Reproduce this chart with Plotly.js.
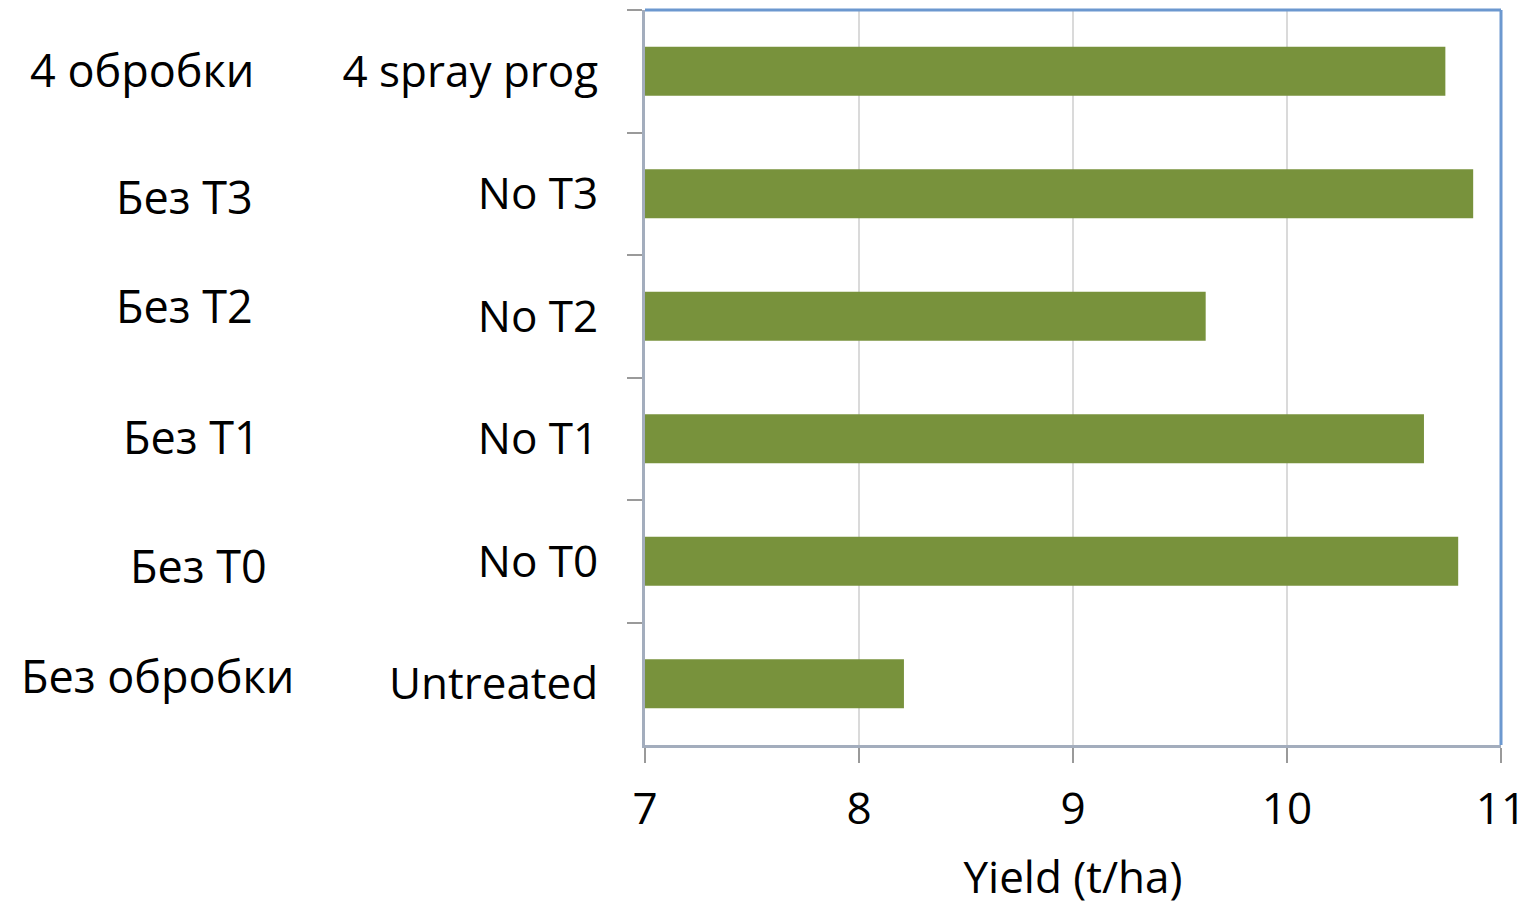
<!DOCTYPE html>
<html>
<head>
<meta charset="utf-8">
<script src="https://cdn.plot.ly/plotly-3.0.1.min.js"></script>
<style>html,body{margin:0;padding:0;background:#fff;}#chart{width:1525px;height:906px;}</style>
</head>
<body>
<div id="chart"></div>
<script>
// Data (top to bottom)
var categories = ["4 spray prog", "No T3", "No T2", "No T1", "No T0", "Untreated"];
var yieldValues = [10.74, 10.87, 9.62, 10.64, 10.80, 8.21];
var ukLabels = ["4 обробки", "Без T3", "Без T2", "Без T1", "Без T0", "Без обробки"];
var xTickVals = [7, 8, 9, 10, 11];
var xTitle = "Yield (t/ha)";

// Layout helpers (pixel positions of Ukrainian labels in the 1525x906 frame)
var ukLabelPx = [[142, 70], [184, 196], [184, 305], [191, 437], [198, 565], [157, 675]];
var plotL = 645, plotR = 1501, plotT = 10, plotB = 745;

var annotations = ukLabels.map(function (t, i) {
  return {
    text: t, xref: "paper", yref: "paper",
    x: (ukLabelPx[i][0] - plotL) / (plotR - plotL),
    y: (plotB - ukLabelPx[i][1]) / (plotB - plotT),
    xanchor: "center", yanchor: "middle", showarrow: false,
    font: {family: "Open Sans", size: 45, color: "#000"}
  };
});

var trace = {
  type: "bar", orientation: "h",
  y: categories, x: yieldValues, base: 0,
  width: 0.4,
  marker: {color: "#78923c", line: {width: 0}},
  hoverinfo: "x+y"
};

var layout = {
  width: 1525, height: 906,
  margin: {l: plotL, r: 1525 - plotR, t: plotT, b: 906 - plotB},
  paper_bgcolor: "#fff", plot_bgcolor: "#fff",
  showlegend: false,
  xaxis: {
    range: [7, 11], tickvals: xTickVals, ticktext: xTickVals.map(String),
    showgrid: true, gridcolor: "#dadada", gridwidth: 2,
    zeroline: false,
    showline: true, linecolor: "#a3adbd", linewidth: 3,
    ticks: "outside", ticklen: 15, tickwidth: 2, tickcolor: "#9a9a9a",
    tickfont: {family: "Open Sans", size: 44, color: "#000"},
    ticklabelstandoff: 8,
    ticklabeloverflow: "allow",
    title: {text: xTitle, font: {family: "Open Sans", size: 44, color: "#000"}, standoff: 30}
  },
  yaxis: {
    type: "category", autorange: "reversed",
    showgrid: false, zeroline: false,
    showline: true, linecolor: "#a3adbd", linewidth: 3,
    ticks: "outside", ticklen: 15, tickwidth: 2, tickcolor: "#9a9a9a",
    tickson: "boundaries",
    tickfont: {family: "Open Sans", size: 44, color: "#000"},
    ticklabelstandoff: 35
  },
  annotations: annotations,
  shapes: [
    {type: "line", xref: "paper", yref: "paper", x0: 0, x1: 1, y0: 1, y1: 1, line: {color: "#6c98cf", width: 3}},
    {type: "line", xref: "paper", yref: "paper", x0: 1, x1: 1, y0: 0, y1: 1, line: {color: "#6c98cf", width: 3}}
  ]
};

Plotly.newPlot("chart", [trace], layout, {displayModeBar: false, staticPlot: true});
</script>
</body>
</html>
